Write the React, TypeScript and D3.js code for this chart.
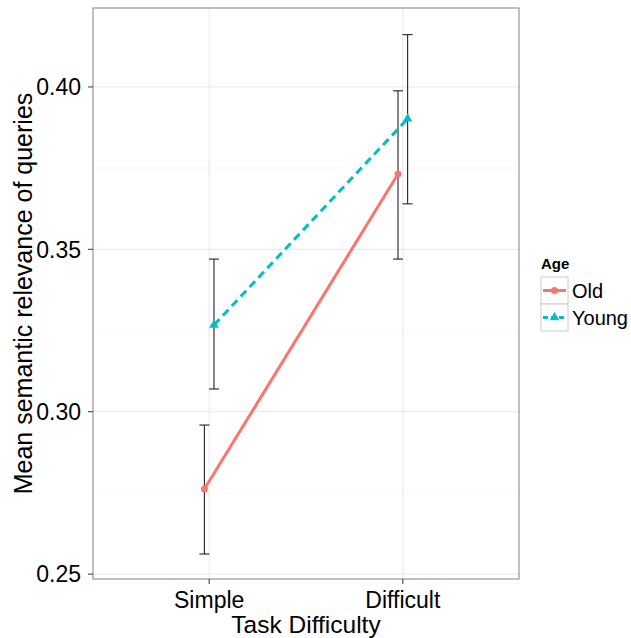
import React, { useRef, useEffect } from "react";
import * as d3 from "d3";

const difficulties = ["Simple", "Difficult"];
const groups = ["Old", "Young"];
const oldMeans = [0.2762, 0.3732];
const oldLow = [0.2562, 0.347];
const oldHigh = [0.2959, 0.3988];
const youngMeans = [0.3267, 0.3902];
const youngLow = [0.307, 0.364];
const youngHigh = [0.347, 0.4161];
const yTicks = [0.25, 0.3, 0.35, 0.4];
const yMinor = [0.275, 0.325, 0.375];

const colors = { Old: "#F8766D", Young: "#00BFC4" };

function App() {
  const ref = useRef<SVGSVGElement>(null);

  useEffect(() => {
    const svg = d3.select(ref.current);
    svg.selectAll("*").remove();

    const left = 93, right = 519, top = 8, bottom = 579;
    const font = "Liberation Sans, Arial, Helvetica, sans-serif";

    // ggplot discrete expand: 0.6 units each side
    const x = d3
      .scaleLinear()
      .domain([-0.6, difficulties.length - 1 + 0.6])
      .range([left, right]);
    const xPos = (d: string) => x(difficulties.indexOf(d));
    const y = d3.scaleLinear().domain([0.2485, 0.4243]).range([bottom, top]);

    const series = [
      { name: "Old", means: oldMeans, low: oldLow, high: oldHigh, dodge: -4.8 },
      { name: "Young", means: youngMeans, low: youngLow, high: youngHigh, dodge: 4.8 },
    ];

    const g = svg.append("g");

    g.append("rect")
      .attr("x", left).attr("y", top)
      .attr("width", right - left).attr("height", bottom - top)
      .attr("fill", "white");

    g.selectAll(".minor")
      .data(yMinor)
      .enter()
      .append("line")
      .attr("x1", left).attr("x2", right)
      .attr("y1", (d) => y(d)).attr("y2", (d) => y(d))
      .attr("stroke", "#f5f5f5").attr("stroke-width", 0.6);

    g.selectAll(".major")
      .data(yTicks)
      .enter()
      .append("line")
      .attr("x1", left).attr("x2", right)
      .attr("y1", (d) => y(d)).attr("y2", (d) => y(d))
      .attr("stroke", "#e8e8e8").attr("stroke-width", 1);

    g.selectAll(".vmajor")
      .data(difficulties)
      .enter()
      .append("line")
      .attr("x1", (d) => xPos(d)).attr("x2", (d) => xPos(d))
      .attr("y1", top).attr("y2", bottom)
      .attr("stroke", "#e8e8e8").attr("stroke-width", 1);

    series.forEach((s) => {
      // error bars
      difficulties.forEach((d, i) => {
        const cx = xPos(d) + s.dodge;
        const eb = g.append("g").attr("stroke", "#222").attr("stroke-width", 1.1).attr("fill", "none");
        eb.append("line").attr("x1", cx).attr("x2", cx).attr("y1", y(s.low[i])).attr("y2", y(s.high[i]));
        eb.append("line").attr("x1", cx - 5).attr("x2", cx + 5).attr("y1", y(s.low[i])).attr("y2", y(s.low[i]));
        eb.append("line").attr("x1", cx - 5).attr("x2", cx + 5).attr("y1", y(s.high[i])).attr("y2", y(s.high[i]));
      });

      const line = d3
        .line<number>()
        .x((v, i) => xPos(difficulties[i]) + s.dodge)
        .y((v) => y(v));

      g.append("path")
        .attr("d", line(s.means))
        .attr("fill", "none")
        .attr("stroke", colors[s.name])
        .attr("stroke-width", 3)
        .attr("stroke-dasharray", s.name === "Young" ? "8,5" : null);

      s.means.forEach((v, i) => {
        const cx = xPos(difficulties[i]) + s.dodge;
        const cy = y(v);
        if (s.name === "Old") {
          g.append("circle").attr("cx", cx).attr("cy", cy).attr("r", 3.5).attr("fill", colors.Old);
        } else {
          const tri = d3.symbol().type(d3.symbolTriangle).size(40);
          g.append("path").attr("d", tri()).attr("transform", `translate(${cx},${cy})`).attr("fill", colors.Young);
        }
      });
    });

    g.append("rect")
      .attr("x", left).attr("y", top)
      .attr("width", right - left).attr("height", bottom - top)
      .attr("fill", "none").attr("stroke", "#808080").attr("stroke-width", 1);

    // y axis
    yTicks.forEach((t) => {
      g.append("line").attr("x1", left - 5).attr("x2", left).attr("y1", y(t)).attr("y2", y(t))
        .attr("stroke", "#333").attr("stroke-width", 1);
      g.append("text").attr("x", left - 12).attr("y", y(t)).attr("dy", "0.36em")
        .attr("text-anchor", "end").attr("font-family", font).attr("font-size", 23)
        .attr("fill", "black").text(d3.format(".2f")(t));
    });

    // x axis
    difficulties.forEach((d) => {
      g.append("line").attr("x1", xPos(d)).attr("x2", xPos(d)).attr("y1", bottom).attr("y2", bottom + 5)
        .attr("stroke", "#333").attr("stroke-width", 1);
      g.append("text").attr("x", xPos(d)).attr("y", 608)
        .attr("text-anchor", "middle").attr("font-family", font).attr("font-size", 23)
        .attr("fill", "black").text(d);
    });

    g.append("text").attr("x", (left + right) / 2).attr("y", 633)
      .attr("text-anchor", "middle").attr("font-family", font).attr("font-size", 24.5)
      .attr("fill", "black").text("Task Difficulty");

    g.append("text")
      .attr("transform", `translate(32,${(top + bottom) / 2}) rotate(-90)`)
      .attr("text-anchor", "middle").attr("font-family", font).attr("font-size", 25)
      .attr("fill", "black").text("Mean semantic relevance of queries");

    // legend
    const lg = g.append("g").attr("transform", "translate(541,263)");
    lg.append("text").attr("x", 0).attr("y", 6).attr("font-family", font).attr("font-size", 15)
      .attr("font-weight", "bold").attr("fill", "black").text("Age");
    groups.forEach((name, i) => {
      const ky = 14 + i * 27;
      lg.append("rect").attr("x", 0).attr("y", ky).attr("width", 27).attr("height", 27)
        .attr("fill", "white").attr("stroke", "#cccccc").attr("stroke-width", 1);
      lg.append("line").attr("x1", 2).attr("x2", 25).attr("y1", ky + 13.5).attr("y2", ky + 13.5)
        .attr("stroke", colors[name]).attr("stroke-width", 3)
        .attr("stroke-dasharray", name === "Young" ? "5,3" : null);
      if (name === "Old") {
        lg.append("circle").attr("cx", 13.5).attr("cy", ky + 13.5).attr("r", 3.5).attr("fill", colors.Old);
      } else {
        const tri = d3.symbol().type(d3.symbolTriangle).size(40);
        lg.append("path").attr("d", tri()).attr("transform", `translate(13.5,${ky + 13.5})`).attr("fill", colors.Young);
      }
      lg.append("text").attr("x", 31).attr("y", ky + 13.5).attr("dy", "0.36em")
        .attr("font-family", font).attr("font-size", 20).attr("fill", "black").text(name);
    });
  }, []);

  return <svg ref={ref} width={631} height={638} style={{ position: "absolute", left: 0, top: 0 }}></svg>;
}

export default App;
